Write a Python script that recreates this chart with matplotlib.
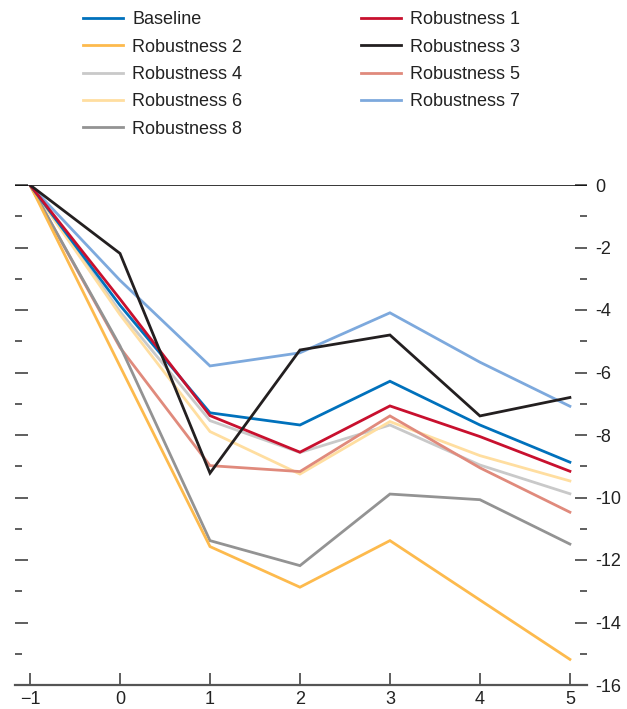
import matplotlib
matplotlib.use("Agg")
import matplotlib.pyplot as plt
from matplotlib.ticker import FixedLocator

plt.rcParams['font.family'] = ['Liberation Sans Narrow', 'Liberation Sans', 'DejaVu Sans']

years = [-1, 0, 1, 2, 3, 4, 5]

baseline = [0, -3.85, -7.29, -7.68, -6.28, -7.68, -8.87]
rob1 = [0, -3.65, -7.38, -8.55, -7.07, -8.05, -9.16]
rob2 = [0, -5.8, -11.57, -12.87, -11.38, -13.28, -15.18]
rob3 = [0, -2.19, -9.22, -5.28, -4.8, -7.39, -6.8]
rob4 = [0, -4.05, -7.54, -8.56, -7.68, -8.96, -9.88]
rob5 = [0, -5.2, -8.98, -9.17, -7.39, -9.05, -10.47]
rob6 = [0, -4.15, -7.89, -9.25, -7.57, -8.66, -9.47]
rob7 = [0, -3.05, -5.79, -5.37, -4.09, -5.67, -7.08]
rob8 = [0, -5.15, -11.38, -12.18, -9.89, -10.07, -11.49]

series_names = ["Baseline", "Robustness 1", "Robustness 2", "Robustness 3", "Robustness 4",
                "Robustness 5", "Robustness 6", "Robustness 7", "Robustness 8"]
series_values = [baseline, rob1, rob2, rob3, rob4, rob5, rob6, rob7, rob8]
series_colors = ["#0071BC", "#C8102E", "#FDBA4D", "#231F20", "#C9C9C9",
                 "#E08A7C", "#FFDEA0", "#7DA9DD", "#939393"]

y_major = [0, -2, -4, -6, -8, -10, -12, -14, -16]
y_labels = ["0", "-2", "-4", "-6", "-8", "-10", "-12", "-14", "-16"]
y_minor = [-1, -3, -5, -7, -9, -11, -13, -15]

FS = 13

fig = plt.figure(figsize=(6.27, 7.09), dpi=100)
ax = fig.add_axes([15/627, 24/709, (587-15)/627, (685-185)/709])

draw_order = [4, 6, 5, 8, 2, 7, 0, 1, 3]
handles = {}
for i in draw_order:
    h, = ax.plot(years, series_values[i], color=series_colors[i], lw=2.0,
                 solid_joinstyle='miter', label=series_names[i], zorder=3 + draw_order.index(i))
    handles[i] = h

ax.axhline(0, color="black", lw=1.1, zorder=2)

ax.set_xlim(-1.167, 5.19)
ax.set_ylim(-16, 0)

for s in ["top", "left", "right"]:
    ax.spines[s].set_visible(False)
ax.spines["bottom"].set_color("#555555")
ax.spines["bottom"].set_linewidth(1.6)

ax.set_xticks(years)
ax.set_xticklabels(["\u22121", "0", "1", "2", "3", "4", "5"])
ax.tick_params(axis="x", direction="in", length=9, width=1.1, color="#333333",
               labelsize=FS, pad=4, labelcolor="#222222")

ax.yaxis.set_major_locator(FixedLocator(y_major))
ax.yaxis.set_minor_locator(FixedLocator(y_minor))
ax.set_yticklabels(y_labels)
ax.tick_params(axis="y", which="major", direction="in", length=9, width=1.1,
               color="#333333", left=True, right=True, labelleft=False,
               labelright=True, labelsize=FS, pad=6, labelcolor="#222222")
ax.tick_params(axis="y", which="minor", direction="in", length=5, width=1.1,
               color="#333333", left=True, right=True)

legend_order = [0, 2, 4, 6, 8, 1, 3, 5, 7]
leg = fig.legend([handles[i] for i in legend_order], [series_names[i] for i in legend_order],
                 ncol=2, loc="upper left", bbox_to_anchor=(78/627, 1 - 6/709),
                 frameon=False, fontsize=FS, handlelength=2.2, handletextpad=0.5,
                 columnspacing=6.6, labelspacing=0.57, borderaxespad=0, borderpad=0.3)
for t in leg.get_texts():
    t.set_color("#222222")

fig.savefig("out.png", dpi=100)
